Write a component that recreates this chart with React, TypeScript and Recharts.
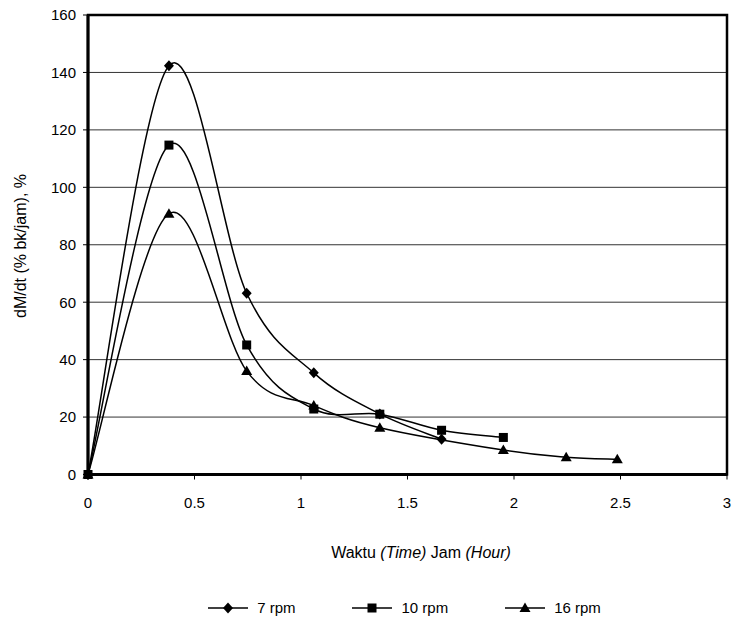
import { LineChart, Line, XAxis, YAxis, CartesianGrid, ReferenceArea } from "recharts";

// Hours of drying (x) and drying rate dM/dt (% bk/jam) for each rotation speed
const time7 = [0, 0.38, 0.745, 1.06, 1.37, 1.66];
const rate7 = [0, 142.3, 63.1, 35.4, 21.1, 12.3];

const time10 = [0, 0.38, 0.745, 1.06, 1.37, 1.66, 1.95];
const rate10 = [0, 114.7, 45.1, 22.8, 21.0, 15.4, 12.9];

const time16 = [0, 0.38, 0.745, 1.06, 1.37, 1.95, 2.245, 2.485];
const rate16 = [0, 90.8, 36.0, 24.0, 16.3, 8.5, 6.0, 5.3];

const xTicks = [0, 0.5, 1, 1.5, 2, 2.5, 3];
const yTicks = [0, 20, 40, 60, 80, 100, 120, 140, 160];

const FONT = "'Liberation Sans Narrow', 'Arial Narrow', 'Liberation Sans', Arial, sans-serif";

const toPoints = (xs: number[], ys: number[]) => xs.map((x, i) => ({ t: x, v: ys[i] }));

const series = [
  { name: "7 rpm", data: toPoints(time7, rate7), marker: "diamond" },
  { name: "10 rpm", data: toPoints(time10, rate10), marker: "square" },
  { name: "16 rpm", data: toPoints(time16, rate16), marker: "triangle" },
];

// Excel-like smoothed line (Catmull-Rom bezier)
function excelCurve(context: any) {
  let pts: number[][] = [];
  return {
    areaStart() {},
    areaEnd() {},
    lineStart() {
      pts = [];
    },
    lineEnd() {
      const n = pts.length;
      if (!n) return;
      context.moveTo(pts[0][0], pts[0][1]);
      for (let i = 0; i < n - 1; i++) {
        const p0 = pts[i - 1] || pts[i];
        const p1 = pts[i];
        const p2 = pts[i + 1];
        const p3 = pts[i + 2] || p2;
        context.bezierCurveTo(
          p1[0] + (p2[0] - p0[0]) / 6,
          p1[1] + (p2[1] - p0[1]) / 6,
          p2[0] - (p3[0] - p1[0]) / 6,
          p2[1] - (p3[1] - p1[1]) / 6,
          p2[0],
          p2[1]
        );
      }
    },
    point(x: number, y: number) {
      pts.push([+x, +y]);
    },
  };
}

function MarkerShape({ kind, cx, cy }: { kind: string; cx: number; cy: number }) {
  if (kind === "diamond") {
    return <path d={`M${cx},${cy - 5.5}L${cx + 5},${cy}L${cx},${cy + 5.5}L${cx - 5},${cy}Z`} fill="#000" />;
  }
  if (kind === "square") {
    return <rect x={cx - 4.5} y={cy - 4.5} width={9} height={9} fill="#000" />;
  }
  return <path d={`M${cx},${cy - 5.5}L${cx + 5.5},${cy + 4}L${cx - 5.5},${cy + 4}Z`} fill="#000" />;
}

function LegendItem({ name, marker }: { name: string; marker: string }) {
  return (
    <div style={{ display: "flex", alignItems: "center" }}>
      <svg width={42} height={14}>
        <line x1={1} y1={7} x2={41} y2={7} stroke="#000" strokeWidth={1.5} />
        <MarkerShape kind={marker} cx={21} cy={7} />
      </svg>
      <span style={{ marginLeft: 8 }}>{name}</span>
    </div>
  );
}

export default function App() {
  return (
    <div style={{ position: "absolute", left: 0, top: 0, width: 734, height: 622, background: "#fff", fontFamily: FONT }}>
      <LineChart width={734} height={622} margin={{ top: 15, right: 7, left: 0, bottom: 117.5 }}>
        <CartesianGrid horizontal vertical={false} stroke="#333" strokeWidth={1} />
        <XAxis
          dataKey="t"
          type="number"
          domain={[0, 3]}
          ticks={xTicks}
          height={30}
          tickSize={5}
          tickMargin={18}
          axisLine={{ stroke: "#000", strokeWidth: 3 }}
          tickLine={{ stroke: "#000" }}
          tick={{ fill: "#000", fontSize: 15, fontFamily: FONT }}
          allowDuplicatedCategory={false}
        />
        <YAxis
          type="number"
          domain={[0, 160]}
          ticks={yTicks}
          width={88}
          tickSize={5}
          tickMargin={7}
          axisLine={{ stroke: "#000", strokeWidth: 3 }}
          tickLine={{ stroke: "#000" }}
          tick={{ fill: "#000", fontSize: 15, fontFamily: FONT }}
        />
        <ReferenceArea x1={0} x2={3} y1={0} y2={160} fill="none" stroke="#000" strokeWidth={2.5} />
        {series.map((s) => (
          <Line
            key={s.name}
            data={s.data}
            dataKey="v"
            name={s.name}
            type={excelCurve as any}
            stroke="#000"
            strokeWidth={1.5}
            isAnimationActive={false}
            dot={(p: any) => <MarkerShape key={`${s.name}-${p.index}`} kind={s.marker} cx={p.cx} cy={p.cy} />}
            activeDot={false}
          />
        ))}
        <text x={20} y={246} transform="rotate(-90 20 246)" textAnchor="middle" dominantBaseline="central" fontSize={16} fontFamily={FONT} fill="#000">
          dM/dt (% bk/jam), %
        </text>
        <text x={421} y={558} textAnchor="middle" fontSize={16} fontFamily={FONT} fill="#000">
          Waktu <tspan fontStyle="italic">(Time)</tspan> Jam <tspan fontStyle="italic">(Hour)</tspan>
        </text>
      </LineChart>
      <div
        style={{
          position: "absolute",
          top: 599,
          left: 0,
          width: 734,
          display: "flex",
          justifyContent: "center",
          gap: 56,
          fontSize: 15,
          paddingLeft: 74,
          boxSizing: "border-box",
        }}
      >
        {series.map((s) => (
          <LegendItem key={s.name} name={s.name} marker={s.marker} />
        ))}
      </div>
    </div>
  );
}
